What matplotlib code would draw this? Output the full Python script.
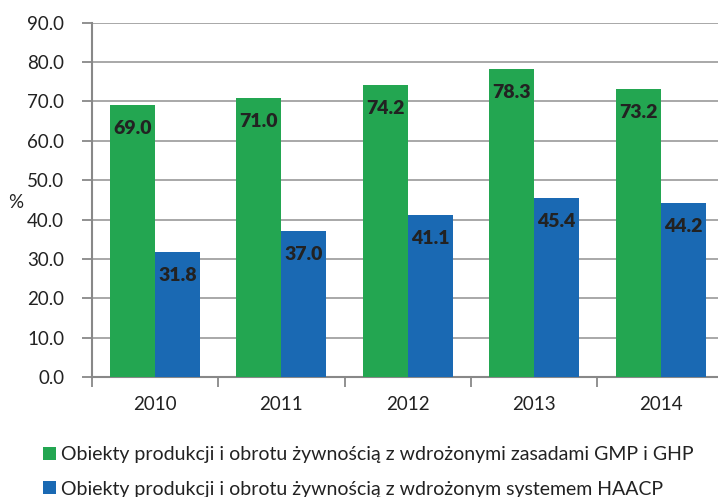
import numpy as np
import matplotlib.pyplot as plt

# Dane
lata = ["2010", "2011", "2012", "2013", "2014"]
gmp_ghp = [69.0, 71.0, 74.2, 78.3, 73.2]
haccp = [31.8, 37.0, 41.1, 45.4, 44.2]
etykiety = ["Obiekty produkcji i obrotu żywnością z wdrożonymi zasadami GMP i GHP",
            "Obiekty produkcji i obrotu żywnością z wdrożonym systemem HAACP"]

plt.rcParams['font.family'] = ['Lato', 'DejaVu Sans']
zielony = "#23a651"
niebieski = "#1a69b3"

fig = plt.figure(figsize=(7.18, 4.97), dpi=100)
ax = fig.add_axes([0.128, 0.2414, 0.88, 0.7129])

x = np.arange(len(lata))
w = 0.356
b1 = ax.bar(x - w/2, gmp_ghp, w, color=zielony, label=etykiety[0], zorder=3)
b2 = ax.bar(x + w/2, haccp, w, color=niebieski, label=etykiety[1], zorder=3)

# Etykiety wartości wewnątrz słupków
for bars in (b1, b2):
    for r in bars:
        ax.annotate(f"{r.get_height():.1f}", (r.get_x() + r.get_width()/2, r.get_height()),
                    xytext=(0, -17), textcoords="offset points", ha="center", va="center",
                    fontsize=14, fontweight="heavy", color="#222222", zorder=4)

ax.set_ylim(0, 90)
ax.set_xlim(-0.5, len(lata) - 0.5)
ax.set_yticks(np.arange(0, 91, 10))
ax.set_yticklabels([f"{v:.1f}" for v in np.arange(0, 91, 10)], fontsize=13.5, color="#222222")
ax.set_xticks(np.arange(-0.5, len(lata), 1))
ax.set_xticklabels([])
ax.set_xticks(x, minor=True)
ax.set_xticklabels(lata, minor=True, fontsize=13.5, color="#222222")
ax.tick_params(axis="x", which="minor", length=0, pad=14)
ax.tick_params(axis="x", which="major", length=7, width=1.3, color="#888888")
ax.tick_params(axis="y", length=7, width=1.3, color="#888888", pad=13)
ax.yaxis.grid(True, color="#999999", linewidth=1.2, zorder=0)
for s in ["top", "right"]:
    ax.spines[s].set_visible(False)
for s in ["left", "bottom"]:
    ax.spines[s].set_color("#888888")
    ax.spines[s].set_linewidth(1.5)

fig.text(0.011, 1 - 203/497, "%", fontsize=13.5, color="#222222", va="center")

fig.legend(loc="upper left", bbox_to_anchor=(0.06, 0.1026), frameon=False, fontsize=14,
           handlelength=0.68, handleheight=0.68, handletextpad=0.26, labelspacing=0.9,
           borderpad=0, borderaxespad=0, labelcolor="#222222")

plt.savefig("out.png", dpi=100)
